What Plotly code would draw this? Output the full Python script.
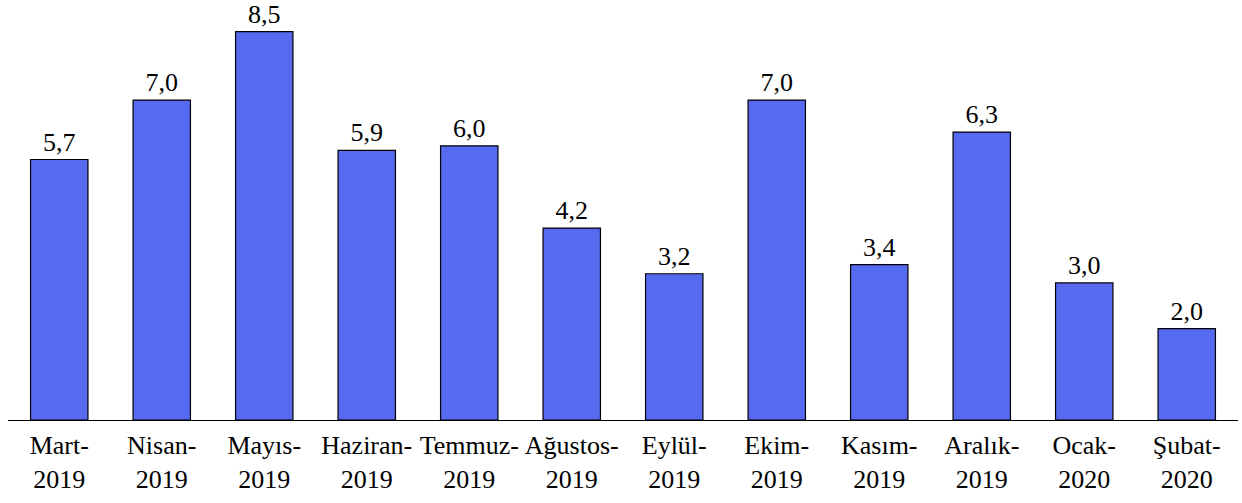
import plotly.graph_objects as go

categories = ["Mart-<br>2019", "Nisan-<br>2019", "Mayıs-<br>2019", "Haziran-<br>2019",
              "Temmuz-<br>2019", "Ağustos-<br>2019", "Eylül-<br>2019", "Ekim-<br>2019",
              "Kasım-<br>2019", "Aralık-<br>2019", "Ocak-<br>2020", "Şubat-<br>2020"]
values = [5.7, 7.0, 8.5, 5.9, 6.0, 4.2, 3.2, 7.0, 3.4, 6.3, 3.0, 2.0]
labels = [f"{v:.1f}".replace(".", ",") for v in values]

FONT = "serif"

fig = go.Figure(go.Bar(
    x=categories, y=values, text=labels, textposition="outside",
    textfont=dict(family=FONT, size=26, color="black"),
    marker=dict(color="#566af0", line=dict(color="black", width=1.2)),
    width=0.56, cliponaxis=False,
))
fig.update_layout(
    width=1242, height=503,
    margin=dict(l=8, r=4, t=0, b=83),
    paper_bgcolor="white", plot_bgcolor="white",
    font=dict(family=FONT, size=26, color="black"),
    showlegend=False,
    xaxis=dict(showline=True, linecolor="black", linewidth=1.2, ticks="",
               automargin=False, ticklabelstandoff=2,
               tickfont=dict(family=FONT, size=26, color="black")),
    yaxis=dict(range=[0, 9.19], visible=False, showgrid=False, automargin=False),
)
fig.write_html("out.html", config={"displayModeBar": False},
               post_script="document.body.style.margin='0';")
